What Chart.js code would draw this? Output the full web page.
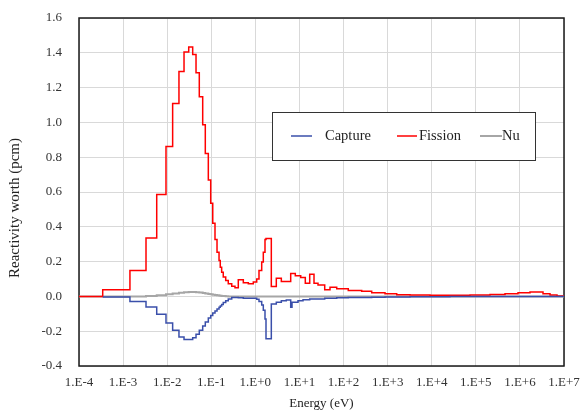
<!DOCTYPE html>
<html>
<head>
<meta charset="utf-8">
<script src="https://cdn.jsdelivr.net/npm/chart.js@4.4.1/dist/chart.umd.min.js"></script>
<style>
  html, body { margin: 0; padding: 0; background: #ffffff; }
  #wrap { width: 585px; height: 412px; position: relative; }
</style>
</head>
<body>
<div id="wrap"><canvas id="c" width="585" height="412"></canvas></div>
<script>
// Energy group boundaries (eV)
const energyBounds = [
  1e-4, 3.45e-4, 1.43e-3, 3.31e-3, 5.79e-3, 9.40e-3, 1.33e-2, 1.85e-2, 2.41e-2, 3.08e-2,
  3.79e-2, 4.51e-2, 5.35e-2, 6.39e-2, 7.32e-2, 8.57e-2, 9.71e-2, 0.108, 0.1215, 0.135,
  0.150, 0.160, 0.172, 0.187, 0.2125, 0.243, 0.291, 0.345, 0.410, 0.533,
  0.692, 0.898, 1.073, 1.209, 1.393, 1.514, 1.654, 1.743, 2.30, 2.985,
  3.88, 5.03, 6.33, 6.78, 8.05, 9.27, 10.68, 12.04, 13.57, 17.08,
  21.38, 26.35, 37.4, 49.3, 70.0, 128, 258, 435, 872, 1606,
  3217, 9142, 25980, 73840, 209800, 459500, 905800, 1.695e6, 3.342e6, 4.818e6,
  6.94e6, 1e7
];

// Reactivity worth per group (pcm)
const captureWorth = [
  null, -0.004, -0.029, -0.061, -0.103, -0.153, -0.195, -0.233, -0.248, -0.248,
  -0.237, -0.218, -0.195, -0.170, -0.147, -0.124, -0.110, -0.095, -0.084, -0.072,
  -0.062, -0.055, -0.046, -0.035, -0.025, -0.015, -0.007, -0.006, -0.008, -0.010,
  -0.010, -0.011, -0.017, -0.030, -0.050, -0.080, -0.130, -0.243, -0.044, -0.034,
  -0.025, -0.021, -0.063, -0.034, -0.034, -0.025, -0.025, -0.019, -0.019, -0.015,
  -0.015, -0.015, -0.010, -0.010, -0.008, -0.007, -0.006, -0.005, -0.004, -0.003,
  -0.002, -0.002, -0.001, -0.001, -0.001, -0.001, -0.001, -0.001, 0, 0,
  0
];

const fissionWorth = [
  0, 0.038, 0.149, 0.336, 0.586, 0.861, 1.108, 1.293, 1.404, 1.434,
  1.390, 1.286, 1.148, 0.986, 0.821, 0.669, 0.535, 0.420, 0.327, 0.254,
  0.206, 0.168, 0.139, 0.111, 0.092, 0.073, 0.059, 0.050, 0.096, 0.078,
  0.073, 0.083, 0.100, 0.149, 0.197, 0.254, 0.327, 0.333, 0.057, 0.105,
  0.086, 0.086, 0.132, 0.132, 0.118, 0.118, 0.109, 0.109, 0.076, 0.128,
  0.076, 0.065, 0.038, 0.053, 0.044, 0.034, 0.029, 0.021, 0.015, 0.010,
  0.008, 0.007, 0.007, 0.008, 0.011, 0.015, 0.021, 0.025, 0.015, 0.008,
  0.003
];

const nuWorth = [
  0, 0, 0, 0.003, 0.007, 0.012, 0.017, 0.021, 0.024, 0.025,
  0.025, 0.024, 0.022, 0.020, 0.017, 0.014, 0.012, 0.010, 0.008, 0.006,
  0.005, 0.004, 0.003, 0.002, 0.001, 0, 0, 0, 0, 0,
  0, 0, 0, 0, 0, 0, 0, 0, 0, 0,
  0, 0, 0, 0, 0, 0, 0, 0, 0, 0,
  0, 0, 0, 0, 0, 0, 0, 0, 0, 0,
  0, 0, 0, 0, 0, 0, 0, 0, 0, 0,
  0
];

const seriesNames = ['Capture', 'Fission', 'Nu'];
const seriesColors = ['#3a4faa', '#ff0000', '#a6a6a6'];

const xTickValues = [1e-4, 1e-3, 1e-2, 1e-1, 1e0, 1e1, 1e2, 1e3, 1e4, 1e5, 1e6, 1e7];
const xTickLabels = ['1.E-4', '1.E-3', '1.E-2', '1.E-1', '1.E+0', '1.E+1', '1.E+2', '1.E+3', '1.E+4', '1.E+5', '1.E+6', '1.E+7'];
const yAxisTitle = 'Reactivity worth (pcm)';
const xAxisTitle = 'Energy (eV)';

function stepPoints(values) {
  const pts = values.map((v, i) => ({ x: energyBounds[i], y: v }));
  pts.push({ x: energyBounds[values.length], y: values[values.length - 1] });
  return pts;
}

const FONT = '"Liberation Serif", "Times New Roman", serif';
Chart.defaults.font.family = FONT;
Chart.defaults.font.size = 13;
Chart.defaults.color = '#333333';

const frameAndLegend = {
  id: 'frameAndLegend',
  beforeDatasetsDraw(chart) {
    const { ctx, chartArea: a } = chart;
    ctx.save();
    ctx.strokeStyle = '#1a1a1a';
    ctx.lineWidth = 1.5;
    ctx.strokeRect(a.left, a.top, a.right - a.left, a.bottom - a.top);
    ctx.restore();
  },
  afterDraw(chart) {
    const { ctx } = chart;
    ctx.save();
    // y axis title
    ctx.save();
    ctx.translate(15, 208);
    ctx.rotate(-Math.PI / 2);
    ctx.font = '15px ' + FONT;
    ctx.fillStyle = '#222222';
    ctx.textAlign = 'center';
    ctx.textBaseline = 'middle';
    ctx.fillText(yAxisTitle, 0, 0);
    ctx.restore();
    // legend box
    ctx.fillStyle = '#ffffff';
    ctx.fillRect(272, 112, 264, 49);
    ctx.strokeStyle = '#333333';
    ctx.lineWidth = 1;
    ctx.strokeRect(272.5, 112.5, 263, 48);
    const items = [
      { x1: 291, x2: 312, tx: 325 },
      { x1: 397, x2: 417, tx: 419 },
      { x1: 480, x2: 502, tx: 502 }
    ];
    const yc = 136;
    ctx.font = '14.5px ' + FONT;
    ctx.textBaseline = 'middle';
    ctx.textAlign = 'left';
    items.forEach((it, i) => {
      const ds = chart.data.datasets[i];
      ctx.strokeStyle = ds.borderColor;
      ctx.lineWidth = ds.borderWidth;
      ctx.beginPath();
      ctx.moveTo(it.x1, yc);
      ctx.lineTo(it.x2, yc);
      ctx.stroke();
      ctx.fillStyle = '#222222';
      ctx.fillText(ds.label, it.tx, yc);
    });
    ctx.restore();
  }
};

new Chart(document.getElementById('c'), {
  type: 'line',
  data: {
    datasets: [
      { label: seriesNames[0], data: stepPoints(captureWorth), borderColor: seriesColors[0], borderWidth: 1.5 },
      { label: seriesNames[1], data: stepPoints(fissionWorth), borderColor: seriesColors[1], borderWidth: 1.5 },
      { label: seriesNames[2], data: stepPoints(nuWorth), borderColor: seriesColors[2], borderWidth: 2 }
    ]
  },
  options: {
    responsive: false,
    animation: false,
    devicePixelRatio: 1,
    layout: { padding: { top: 18, right: 21, left: 0, bottom: 0 } },
    datasets: { line: { stepped: 'before', pointRadius: 0, tension: 0, fill: false, spanGaps: false } },
    plugins: { legend: { display: false }, tooltip: { enabled: false } },
    scales: {
      x: {
        type: 'logarithmic',
        min: 1e-4,
        max: 1e7,
        afterBuildTicks(scale) { scale.ticks = xTickValues.map(v => ({ value: v })); },
        afterFit(scale) { scale.height = 46; scale.paddingLeft = 0; scale.paddingRight = 0; },
        ticks: {
          autoSkip: false, maxRotation: 0, minRotation: 0, padding: 9,
          callback: (v, i) => xTickLabels[i]
        },
        grid: { color: '#d9d9d9', lineWidth: 1, drawTicks: false },
        border: { display: false },
        title: { display: true, text: xAxisTitle, color: '#222222', font: { size: 13 }, padding: { top: 0, bottom: 1 } }
      },
      y: {
        type: 'linear',
        min: -0.4,
        max: 1.6,
        afterFit(scale) { scale.width = 79; scale.paddingTop = 0; scale.paddingBottom = 0; },
        ticks: { stepSize: 0.2, padding: 17, callback: v => Number(v).toFixed(1) },
        grid: { color: '#d9d9d9', lineWidth: 1, drawTicks: false },
        border: { display: false },
        title: { display: false }
      }
    }
  },
  plugins: [frameAndLegend]
});
</script>
</body>
</html>
